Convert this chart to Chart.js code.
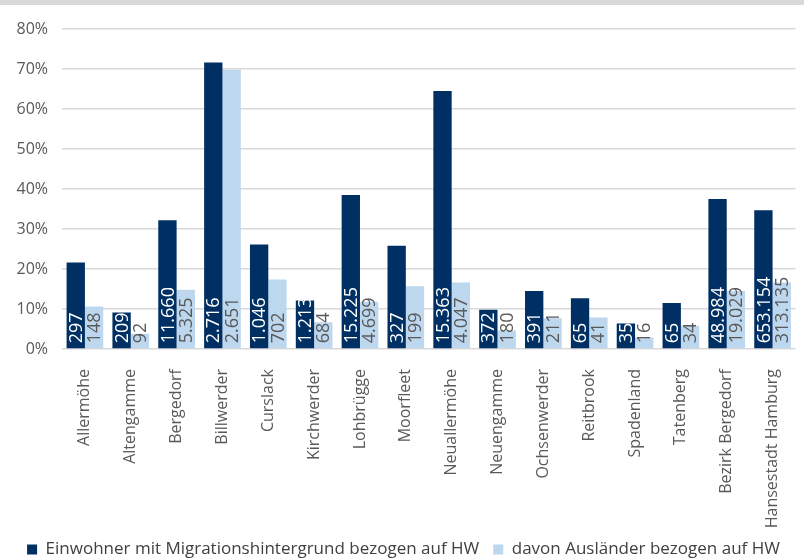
<!DOCTYPE html>
<html>
<head>
<meta charset="utf-8">
<script src="https://cdn.jsdelivr.net/npm/chart.js@4/dist/chart.umd.min.js"></script>
<style>
  html, body { margin: 0; padding: 0; background: #fff; }
  #band { position: absolute; left: 0; top: 0; width: 804px; height: 5px; background: #d9d9d9; }
  #wrap { position: absolute; left: 0; top: 0; width: 804px; height: 558px; }
</style>
</head>
<body>
<div id="wrap"><canvas id="chart"></canvas></div>
<div id="band"></div>
<script>
// Stadtteile
const categories = ['Allermöhe', 'Altengamme', 'Bergedorf', 'Billwerder', 'Curslack', 'Kirchwerder',
    'Lohbrügge', 'Moorfleet', 'Neuallermöhe', 'Neuengamme', 'Ochsenwerder', 'Reitbrook',
    'Spadenland', 'Tatenberg', 'Bezirk Bergedorf', 'Hansestadt Hamburg'];

// Anteile in %
const migrationPct = [21.6, 9.1, 32.2, 71.6, 26.1, 12.1, 38.5, 25.8, 64.5, 9.8, 14.5, 12.7, 6.4, 11.5, 37.5, 34.7];
const auslaenderPct = [10.6, 3.8, 14.8, 69.8, 17.4, 6.7, 11.8, 15.7, 16.6, 4.6, 7.7, 7.9, 2.9, 5.8, 14.5, 16.6];

// absolute Zahlen (als Beschriftung in den Balken)
const migrationCount = ['297', '209', '11.660', '2.716', '1.046', '1.213', '15.225', '327', '15.363', '372', '391', '65', '35', '65', '48.984', '653.154'];
const auslaenderCount = ['148', '92', '5.325', '2.651', '702', '684', '4.699', '199', '4.047', '180', '211', '41', '16', '34', '19.029', '313.135'];

const countLabels = [migrationCount, auslaenderCount];
const labelColors = ['#ffffff', '#595959'];

// draws the counts rotated inside the bars, starting at the base
const barCounts = {
    id: 'barCounts',
    afterDatasetsDraw(chart) {
        const ctx = chart.ctx;
        ctx.save();
        ctx.font = '18px "Open Sans"';
        ctx.textAlign = 'left';
        ctx.textBaseline = 'middle';
        chart.data.datasets.forEach((ds, i) => {
            const meta = chart.getDatasetMeta(i);
            meta.data.forEach((bar, j) => {
                ctx.save();
                ctx.translate(bar.x, bar.base - 5);
                ctx.rotate(-Math.PI / 2);
                ctx.fillStyle = labelColors[i];
                ctx.fillText(countLabels[i][j], 0, 1);
                ctx.restore();
            });
        });
        ctx.restore();
    }
};

const ctx = document.getElementById('chart').getContext('2d');
new Chart(ctx, {
    type: 'bar',
    data: {
        labels: categories,
        datasets: [{
            label: 'Einwohner mit Migrationshintergrund bezogen auf HW',
            data: migrationPct,
            backgroundColor: '#003063',
        }, {
            label: 'davon Ausländer bezogen auf HW',
            data: auslaenderPct,
            backgroundColor: '#bdd7ee',
        }]
    },
    options: {
        responsive: true,
        maintainAspectRatio: false,
        animation: false,
        datasets: {
            bar: { categoryPercentage: 0.8, barPercentage: 1.0 }
        },
        layout: { padding: { top: 29, right: 7, left: 10, bottom: -10 } },
        plugins: {
            tooltip: { enabled: false },
            legend: {
                position: 'bottom',
                labels: {
                    boxWidth: 10,
                    boxHeight: 10,
                    padding: 14,
                    color: '#404040',
                    font: { family: 'Open Sans', size: 17 }
                }
            }
        },
        scales: {
            x: {
                grid: { display: false },
                border: { display: false },
                afterFit(scale) { scale.height = 178; },
                ticks: {
                    minRotation: 90,
                    maxRotation: 90,
                    autoSkip: false,
                    padding: 12,
                    color: '#595959',
                    font: { family: 'Open Sans', size: 16 }
                }
            },
            y: {
                min: 0,
                max: 80,
                grid: { color: '#d9d9d9', lineWidth: 1.5, drawTicks: false },
                border: { display: false },
                afterFit(scale) { scale.width = 52; },
                ticks: {
                    stepSize: 10,
                    padding: 14,
                    color: '#595959',
                    font: { family: 'Open Sans', size: 16 },
                    callback: v => v + '%'
                }
            }
        }
    },
    plugins: [barCounts]
});
</script>
</body>
</html>
